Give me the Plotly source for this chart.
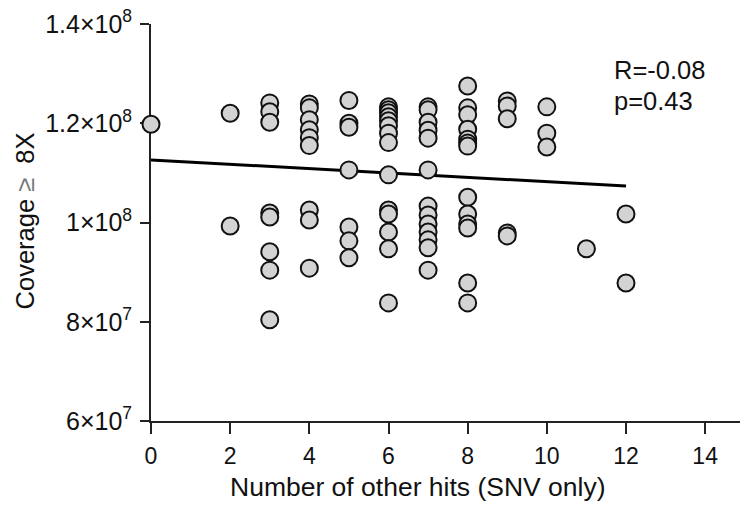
import plotly.graph_objects as go

# Number of other SNV hits per sample and corresponding coverage (bases at >= 8X)
hits = [0,
        2, 2,
        3, 3, 3, 3, 3, 3, 3, 3,
        4, 4, 4, 4, 4, 4, 4, 4, 4,
        5, 5, 5, 5, 5, 5, 5,
        6, 6, 6, 6, 6, 6, 6, 6, 6, 6, 6, 6, 6, 6,
        7, 7, 7, 7, 7, 7, 7, 7, 7, 7, 7, 7, 7,
        8, 8, 8, 8, 8, 8, 8, 8, 8, 8, 8, 8, 8,
        9, 9, 9, 9, 9,
        10, 10, 10,
        11,
        12, 12]
coverage_m = [119.8,
              122.0, 99.3,
              124.1, 122.3, 120.2, 101.9, 101.1, 94.1, 90.4, 80.4,
              123.9, 123.1, 120.7, 118.7, 117.1, 115.5, 102.5, 100.5, 90.8,
              124.6, 120.0, 119.2, 110.6, 99.1, 96.3, 92.9,
              123.3, 122.7, 122.1, 121.3, 120.5, 119.5, 118.0, 116.1, 109.6, 102.5, 101.7, 98.1, 94.7, 83.8,
              123.3, 122.7, 120.2, 118.6, 117.0, 110.6, 103.3, 101.5, 99.7, 98.1, 96.5, 94.9, 90.4,
              127.5, 123.1, 121.7, 118.8, 116.8, 116.0, 115.4, 105.1, 101.7, 99.7, 98.9, 87.8, 83.8,
              124.5, 123.5, 120.9, 97.9, 97.3,
              123.3, 118.0, 115.2,
              94.7,
              101.7, 87.8]
coverage = [v * 1e6 for v in coverage_m]

# Least-squares fit line endpoints
fit_x = [0, 12]
fit_y = [112.6e6, 107.35e6]

stat_lines = ["R=-0.08", "p=0.43"]

y_ticks = [6e7, 8e7, 1e8, 1.2e8, 1.4e8]
y_tick_text = ["6×10<sup>7</sup>", "8×10<sup>7</sup>", "1×10<sup>8</sup>",
               "1.2×10<sup>8</sup>", "1.4×10<sup>8</sup>"]
x_ticks = [0, 2, 4, 6, 8, 10, 12, 14]

FONT = "Liberation Sans, Arial, sans-serif"
INK = "#111111"

fig = go.Figure()
fig.add_trace(go.Scatter(
    x=fit_x, y=fit_y, mode="lines",
    line=dict(color="black", width=3),
    cliponaxis=False, hoverinfo="skip"))
fig.add_trace(go.Scatter(
    x=hits, y=coverage, mode="markers",
    marker=dict(size=17, color="#d3d3d3",
                line=dict(color="#111111", width=2)),
    cliponaxis=False))

fig.update_layout(
    width=740, height=509,
    margin=dict(l=151, r=0, t=24, b=88),
    paper_bgcolor="white", plot_bgcolor="white",
    showlegend=False,
    font=dict(family=FONT, size=25, color=INK),
    xaxis=dict(
        range=[0, 14.88], tickvals=x_ticks,
        ticks="outside", ticklen=11, tickwidth=1.8, tickcolor="#222",
        showline=True, linecolor="#222", linewidth=1.8,
        showgrid=False, zeroline=False, layer="below traces",
        ticklabelstandoff=2,
        tickfont=dict(size=23, family=FONT, color=INK)),
    yaxis=dict(
        range=[6e7, 1.4e8], tickvals=y_ticks, ticktext=y_tick_text,
        ticks="outside", ticklen=9, tickwidth=1.8, tickcolor="#222",
        showline=True, linecolor="#222", linewidth=1.8,
        showgrid=False, zeroline=False, layer="below traces",
        ticklabelstandoff=3,
        tickfont=dict(size=25, family=FONT, color=INK)),
)

fig.add_annotation(text="Number of other hits (SNV only)",
                   xref="paper", yref="paper", x=0.454, y=-0.166,
                   xanchor="center", yanchor="middle", showarrow=False,
                   font=dict(size=26.5, family=FONT, color=INK))
fig.add_annotation(text='Coverage <span style="color:#777777">≥</span>&nbsp; 8X',
                   xref="paper", yref="paper", x=-0.214, y=0.505,
                   xanchor="center", yanchor="middle", textangle=-90,
                   showarrow=False,
                   font=dict(size=25.5, family=FONT, color=INK))
for i, s in enumerate(stat_lines):
    fig.add_annotation(text=s, xref="paper", yref="paper",
                       x=(612 - 151) / 589, y=(421 - 70 - 31 * i) / 397,
                       xanchor="left", yanchor="middle", showarrow=False,
                       font=dict(size=25.5, family=FONT, color=INK))

fig.write_html("out.html")
